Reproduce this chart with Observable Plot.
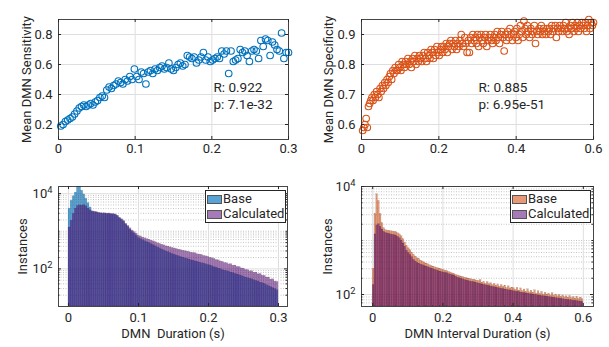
<!DOCTYPE html>
<html><head><meta charset="utf-8">
<script src="https://cdn.jsdelivr.net/npm/d3@7"></script>
<script src="https://cdn.jsdelivr.net/npm/@observablehq/plot@0.6"></script>
<style>
body{margin:0;background:#fff;}
#wrap{position:relative;width:609px;height:347px;overflow:hidden;font-family:Roboto,sans-serif;color:#262626;background:#fff;}
.p{position:absolute;}
.legend{position:absolute;background:#fff;border:1px solid #262626;font-size:13px;line-height:16px;}
.legend .row{position:absolute;left:0;height:16px;white-space:nowrap;}
.legend .sw{position:absolute;left:1px;top:4px;width:15px;height:9px;box-sizing:border-box;border:0.5px solid #555;}
.legend .lb{position:absolute;left:17px;top:0;}
</style></head><body><div id="wrap"></div>
<script>
// ---------- data ----------
const sensBin = 0.003;
const sensY = [0.19,0.20,0.22,0.23,0.24,0.25,0.27,0.29,0.31,0.32,
0.33,0.32,0.33,0.34,0.33,0.35,0.36,0.38,0.39,0.38,
0.43,0.45,0.44,0.46,0.47,0.49,0.48,0.47,0.50,0.49,
0.52,0.50,0.57,0.52,0.50,0.55,0.54,0.47,0.55,0.56,
0.54,0.57,0.56,0.58,0.59,0.57,0.58,0.61,0.57,0.56,
0.58,0.60,0.61,0.59,0.60,0.66,0.65,0.64,0.65,0.61,
0.63,0.65,0.68,0.63,0.65,0.62,0.63,0.64,0.65,0.64,
0.69,0.67,0.69,0.54,0.69,0.62,0.63,0.64,0.70,0.68,
0.69,0.66,0.62,0.69,0.70,0.69,0.64,0.76,0.72,0.77,
0.76,0.66,0.75,0.73,0.70,0.69,0.81,0.64,0.68,0.68];
const specBin = 0.003;
const specY = [0.58,0.59,0.60,0.62,0.59,0.66,0.67,0.68,0.69,0.68,
0.70,0.69,0.71,0.70,0.69,0.72,0.71,0.73,0.72,0.74,
0.73,0.75,0.74,0.76,0.77,0.75,0.78,0.77,0.79,0.78,
0.78,0.80,0.79,0.78,0.81,0.80,0.79,0.81,0.80,0.82,
0.80,0.81,0.79,0.82,0.81,0.83,0.80,0.82,0.81,0.83,
0.82,0.81,0.83,0.84,0.82,0.81,0.84,0.83,0.82,0.85,
0.84,0.82,0.85,0.83,0.86,0.84,0.83,0.85,0.86,0.84,
0.86,0.85,0.87,0.84,0.86,0.87,0.88,0.85,0.87,0.86,
0.88,0.85,0.87,0.86,0.88,0.90,0.87,0.86,0.89,0.87,
0.84,0.88,0.84,0.89,0.87,0.90,0.88,0.89,0.87,0.90,
0.86,0.89,0.90,0.88,0.87,0.89,0.90,0.86,0.88,0.89,
0.90,0.88,0.87,0.89,0.90,0.88,0.91,0.89,0.87,0.90,
0.91,0.89,0.845,0.90,0.88,0.91,0.89,0.92,0.90,0.88,
0.90,0.91,0.89,0.92,0.88,0.90,0.93,0.91,0.89,0.945,
0.92,0.90,0.93,0.91,0.89,0.92,0.90,0.91,0.93,0.87,
0.91,0.90,0.92,0.91,0.93,0.90,0.92,0.91,0.90,0.92,
0.91,0.92,0.90,0.93,0.91,0.92,0.93,0.89,0.92,0.91,
0.93,0.92,0.91,0.93,0.92,0.94,0.91,0.92,0.90,0.93,
0.92,0.94,0.91,0.93,0.92,0.94,0.91,0.93,0.92,0.94,
0.93,0.92,0.94,0.91,0.93,0.95,0.92,0.94,0.93,0.94];
const durBin = 0.003;
const durBase = [4000,6500,8500,10700,15000,16000,12000,9500,7300,5600,
4300,3300,3200,3150,3000,2950,2900,2920,2850,2870,
2800,2780,2700,2500,2200,2000,1800,1500,1300,1100,
960,860,760,660,620,580,545,515,490,455,
430,400,372,352,330,312,292,280,265,250,
240,228,218,208,200,192,186,178,170,166,
158,155,148,142,139,133,127,124,118,111,
108,102,99,93,90,87,84,80,78,74,
71,68,65,62,59,57,55,53,50,48,
46,43,42,40,37,35,33,31,29,27];
const durCalc = [1260,1900,2900,4000,4700,4900,4800,4950,4600,4000,
3600,3400,3300,3250,3100,3050,3000,3020,2950,2980,
2900,2880,2800,2600,2300,2100,1900,1600,1400,1200,
1050,950,860,760,730,680,650,620,600,565,
540,515,480,465,440,425,400,392,375,362,
350,338,325,318,305,298,290,282,270,266,
262,244,241,236,222,216,210,198,192,185,
172,169,158,154,144,142,132,134,122,123,
113,112,103,102,94,93,86,87,79,80,
72,73,66,65,59,59,52,53,46,45];
const intBin = 0.005;
const intBase = [300,3100,7200,5400,3100,2100,1700,1560,1520,1500,
1490,1470,1450,1420,1360,1300,1200,1060,920,800,
720,660,600,545,505,470,455,425,410,392,
375,366,350,338,330,320,312,305,300,290,
285,276,270,262,256,246,240,232,226,220,
215,212,205,202,198,196,190,188,185,181,
178,186,165,172,158,170,155,162,150,158,
145,154,140,150,138,146,132,142,130,134,
131,122,133,118,130,116,124,112,125,110,
118,108,120,104,115,102,112,100,108,99,
104,96,106,94,100,93,98,90,96,89,
93,87,94,85,90,84,91,83,88,82];
const intCalc = [150,1300,1900,2000,1800,1600,1450,1380,1350,1320,
1300,1280,1250,1220,1170,1100,1000,880,770,650,
590,540,490,440,410,385,372,360,350,340,
330,322,312,302,294,288,280,272,265,260,
255,250,247,240,234,228,224,215,206,200,
195,192,186,182,178,175,172,170,167,163,
160,157,154,151,149,146,143,141,139,136,
134,132,130,128,126,124,122,120,119,117,
115,114,112,111,109,108,106,105,104,102,
101,100,99,98,96,95,94,93,92,91,
90,89,88,87,86,85,84,83,82,81,
80,79,79,78,77,76,76,75,74,73];
const sensXTicks = [0, 0.1, 0.2, 0.3];
const sensYTicks = [0.2, 0.4, 0.6, 0.8];
const specXTicks = [0, 0.2, 0.4, 0.6];
const specYTicks = [0.6, 0.7, 0.8, 0.9];
const durXTicks = [0, 0.1, 0.2, 0.3];
const intXTicks = [0, 0.2, 0.4, 0.6];
const logTicks = [100, 10000];
const statsSens = ["R: 0.922", "p: 7.1e-32"];
const statsSpec = ["R: 0.885", "p: 6.95e-51"];
const seriesNames = ["Base", "Calculated"];
const labels = {
  sens: "Mean DMN Sensitivity", spec: "Mean DMN Specificity",
  inst: "Instances", dur: "DMN\u00a0 Duration (s)", intv: "DMN Interval Duration (s)"
};

// ---------- style ----------
const INK = "#262626", GRID = "#dedede", MINOR = "#c4c4c4";
const BLUE = "#0072BD", ORANGE = "#D95319", PURPLE = "#540073";
const BASE_OP = {blue: 0.65, orange: 0.6}, CALC_OP = 0.52;
const wrap = document.getElementById("wrap");

function minorLog(lo, hi) {
  const out = [];
  for (let e = Math.floor(Math.log10(lo)); e <= Math.ceil(Math.log10(hi)); e++)
    for (let k = 1; k < 10; k++) {
      const v = k * Math.pow(10, e);
      if (v > lo && v < hi && !logTicks.includes(v)) out.push(v);
    }
  return out;
}

function inwardTicks(fw, fh, xt, yt, len) {
  return [
    Plot.tickX(xt, {x: d => d, insetTop: fh - len, stroke: INK}),
    Plot.tickX(xt, {x: d => d, insetBottom: fh - len, stroke: INK}),
    Plot.tickY(yt, {y: d => d, insetRight: fw - len, stroke: INK}),
    Plot.tickY(yt, {y: d => d, insetLeft: fw - len, stroke: INK})
  ];
}

function supify(svg) {
  svg.querySelectorAll("text").forEach(t => {
    const m = /^10\^(\d+)$/.exec(t.textContent);
    if (!m) return;
    t.textContent = "10";
    const ts = document.createElementNS("http://www.w3.org/2000/svg", "tspan");
    ts.setAttribute("dy", "-0.5em");
    ts.setAttribute("font-size", "0.72em");
    ts.textContent = m[1];
    t.appendChild(ts);
  });
}

function place(node, left, top) {
  node.classList.add("p");
  node.style.left = left + "px";
  node.style.top = top + "px";
  wrap.appendChild(node);
  supify(node);
}

const baseStyle = {fontFamily: "Roboto, sans-serif", fontSize: "13px", color: INK, background: "transparent", overflow: "visible"};
const fmt = d => d === 0 ? "0" : String(d);

// ---------- scatter panels ----------
function scatter({left, W, ml, mr, xd, yd, xt, yt, ys, bin, color, ylabel, stats, sdx, labdx}) {
  const H = 170, mt = 19, mb = 31;
  const fw = W - ml - mr, fh = H - mt - mb;
  const pts = ys.map((y, i) => ({x: (i + 1) * bin, y}));
  const p = Plot.plot({
    width: W, height: H, marginLeft: ml, marginRight: mr, marginTop: mt, marginBottom: mb,
    style: baseStyle,
    x: {domain: xd}, y: {domain: yd},
    marks: [
      Plot.gridX(xt, {stroke: GRID, strokeOpacity: 1}),
      Plot.gridY(yt, {stroke: GRID, strokeOpacity: 1}),
      Plot.dot(pts, {x: "x", y: "y", r: 3.3, stroke: color, strokeWidth: 1.1, fill: "none"}),
      Plot.text([stats[0]], {text: d => d, frameAnchor: "top-left", dx: sdx, dy: 68, textAnchor: "start", lineAnchor: "middle", fontSize: 13.5, fill: INK}),
      Plot.text([stats[1]], {text: d => d, frameAnchor: "top-left", dx: sdx, dy: 85, textAnchor: "start", lineAnchor: "middle", fontSize: 13.5, fill: INK}),
      ...inwardTicks(fw, fh, xt, yt, 3),
      Plot.axisX(xt, {tickSize: 0, tickPadding: 4, tickFormat: fmt, label: null}),
      Plot.axisY(yt, {tickSize: 0, tickPadding: 6, tickFormat: fmt, label: null}),
      Plot.text([ylabel], {text: d => d, frameAnchor: "left", textAnchor: "middle", lineAnchor: "middle", rotate: -90, dx: labdx, fontSize: 13, fill: INK}),
      Plot.frame({stroke: INK, strokeOpacity: 0.85})
    ]
  });
  place(p, left, 0);
}

scatter({left: 0, W: 305, ml: 58, mr: 17, xd: [0, 0.3], yd: [0.1, 0.9], xt: sensXTicks, yt: sensYTicks,
  ys: sensY, bin: sensBin, color: BLUE, ylabel: labels.sens, stats: statsSens, sdx: 155, labdx: -32});
scatter({left: 305, W: 304, ml: 56, mr: 16, xd: [0, 0.6], yd: [0.55, 0.95], xt: specXTicks, yt: specYTicks,
  ys: specY, bin: specBin, color: ORANGE, ylabel: labels.spec, stats: statsSpec, sdx: 117, labdx: -33});

// ---------- histogram panels ----------
function hist({left, W, ml, mr, xd, yd, xt, base, calc, bin, baseColor, baseOp, xlabel, labdx}) {
  const H = 177, mt = 16, mb = 41;
  const fw = W - ml - mr, fh = H - mt - mb;
  const mk = arr => arr.map((v, i) => ({x1: i * bin, x2: (i + 1) * bin, v}));
  const minors = minorLog(yd[0], yd[1]);
  const barStyle = {stroke: "#1a1a1a", strokeWidth: 0.3, strokeOpacity: 0.3, clip: true};
  const p = Plot.plot({
    width: W, height: H, marginLeft: ml, marginRight: mr, marginTop: mt, marginBottom: mb,
    style: baseStyle,
    x: {domain: xd}, y: {type: "log", domain: yd},
    marks: [
      Plot.gridY(minors, {stroke: MINOR, strokeOpacity: 1, strokeDasharray: "1,1.5"}),
      Plot.gridX(xt, {stroke: GRID, strokeOpacity: 1}),
      Plot.gridY(logTicks, {stroke: GRID, strokeOpacity: 1}),
      Plot.rectY(mk(base), {x1: "x1", x2: "x2", y1: yd[0], y2: "v", fill: baseColor, fillOpacity: baseOp, ...barStyle}),
      Plot.rectY(mk(calc), {x1: "x1", x2: "x2", y1: yd[0], y2: "v", fill: PURPLE, fillOpacity: CALC_OP, ...barStyle}),
      ...inwardTicks(fw, fh, xt, logTicks, 3),
      Plot.tickY(minors, {y: d => d, insetRight: fw - 1.5, stroke: INK}),
      Plot.tickY(minors, {y: d => d, insetLeft: fw - 1.5, stroke: INK}),
      Plot.axisX(xt, {tickSize: 0, tickPadding: 6, tickFormat: fmt, label: null}),
      Plot.axisY(logTicks, {tickSize: 0, tickPadding: 6, tickFormat: d => "10^" + Math.round(Math.log10(d)), label: null}),
      Plot.text([labels.inst], {text: d => d, frameAnchor: "left", textAnchor: "middle", lineAnchor: "middle", rotate: -90, dx: labdx, fontSize: 13, fill: INK}),
      Plot.text([xlabel], {text: d => d, frameAnchor: "bottom", textAnchor: "middle", dy: 27, lineAnchor: "middle", fontSize: 13, fill: INK}),
      Plot.frame({stroke: INK, strokeOpacity: 0.85})
    ]
  });
  place(p, left, 170);
}

hist({left: 0, W: 305, ml: 58, mr: 18, xd: [-0.0143, 0.3129], yd: [10, 15500], xt: durXTicks,
  base: durBase, calc: durCalc, bin: durBin, baseColor: BLUE, baseOp: BASE_OP.blue, xlabel: labels.dur, labdx: -36});
hist({left: 305, W: 304, ml: 56, mr: 16, xd: [-0.032, 0.629], yd: [60, 10000], xt: intXTicks,
  base: intBase, calc: intCalc, bin: intBin, baseColor: ORANGE, baseOp: BASE_OP.orange, xlabel: labels.intv, labdx: -34});

// ---------- legends ----------
function onWhite(col, a) {
  const c = d3.rgb(col);
  return `rgb(${(1-a)*255+a*c.r},${(1-a)*255+a*c.g},${(1-a)*255+a*c.b})`;
}
function legend(left, top, baseColor, baseOp) {
  const box = document.createElement("div");
  box.className = "legend";
  Object.assign(box.style, {left: left + "px", top: top + "px", width: "79px", height: "31px"});
  const fills = [onWhite(baseColor, baseOp), onWhite(PURPLE, CALC_OP)];
  seriesNames.forEach((name, i) => {
    const row = document.createElement("div");
    row.className = "row";
    row.style.top = (i * 15) + "px";
    const sw = document.createElement("span");
    sw.className = "sw";
    sw.style.background = fills[i];
    const lb = document.createElement("span");
    lb.className = "lb";
    lb.textContent = name;
    row.appendChild(sw); row.appendChild(lb);
    box.appendChild(row);
  });
  wrap.appendChild(box);
}
legend(205, 190, BLUE, BASE_OP.blue);
legend(510, 190, ORANGE, BASE_OP.orange);
</script></body></html>
